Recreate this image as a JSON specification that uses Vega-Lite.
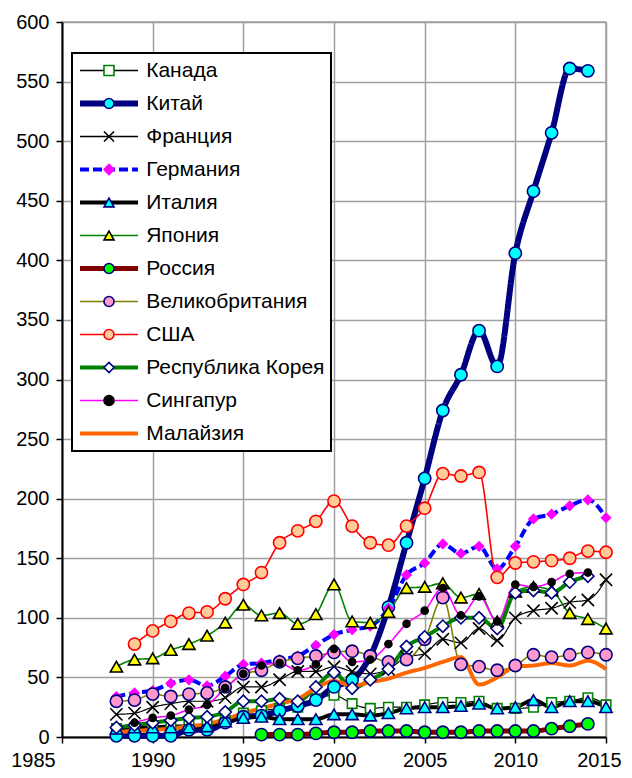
{
"$schema": "https://vega.github.io/schema/vega-lite/v6.json",
"width": 544, "height": 715,
"autosize": {"type": "none"},
"padding": {"left": 62, "top": 22, "right": 26, "bottom": 41},
"background": "white",
"config": {
  "font": "Liberation Sans",
  "view": {"stroke": "#a0a0a0", "strokeWidth": 1.5},
  "axis": {"labelFont": "Liberation Sans", "labelFontSize": 20, "labelColor": "black", "title": null, "domainColor": "black", "domainWidth": 2, "tickColor": "black", "tickWidth": 1.5, "tickSize": 6, "gridColor": "#a0a0a0", "gridWidth": 1.5, "labelPadding": 7},
  "legend": {"strokeWidth": 2}
},
"data": {"values": [
{"c":"Канада","y":1988,"v":7},{"c":"Канада","y":1989,"v":8},{"c":"Канада","y":1990,"v":9},{"c":"Канада","y":1991,"v":10},{"c":"Канада","y":1992,"v":10},{"c":"Канада","y":1993,"v":11},{"c":"Канада","y":1994,"v":14},{"c":"Канада","y":1995,"v":20},{"c":"Канада","y":1996,"v":22},{"c":"Канада","y":1997,"v":24},{"c":"Канада","y":1998,"v":25},{"c":"Канада","y":1999,"v":32},{"c":"Канада","y":2000,"v":35},{"c":"Канада","y":2001,"v":28},{"c":"Канада","y":2002,"v":24},{"c":"Канада","y":2003,"v":25},{"c":"Канада","y":2004,"v":25},{"c":"Канада","y":2005,"v":27},{"c":"Канада","y":2006,"v":29},{"c":"Канада","y":2007,"v":29},{"c":"Канада","y":2008,"v":30},{"c":"Канада","y":2009,"v":24},{"c":"Канада","y":2010,"v":24},{"c":"Канада","y":2011,"v":25},{"c":"Канада","y":2012,"v":29},{"c":"Канада","y":2013,"v":30},{"c":"Канада","y":2014,"v":33},{"c":"Канада","y":2015,"v":27},
{"c":"Китай","y":1988,"v":1},{"c":"Китай","y":1989,"v":1},{"c":"Китай","y":1990,"v":1},{"c":"Китай","y":1991,"v":1},{"c":"Китай","y":1992,"v":6},{"c":"Китай","y":1993,"v":6},{"c":"Китай","y":1994,"v":12},{"c":"Китай","y":1995,"v":17},{"c":"Китай","y":1996,"v":18},{"c":"Китай","y":1997,"v":22},{"c":"Китай","y":1998,"v":26},{"c":"Китай","y":1999,"v":31},{"c":"Китай","y":2000,"v":42},{"c":"Китай","y":2001,"v":48},{"c":"Китай","y":2002,"v":68},{"c":"Китай","y":2003,"v":109},{"c":"Китай","y":2004,"v":163},{"c":"Китай","y":2005,"v":217},{"c":"Китай","y":2006,"v":274},{"c":"Китай","y":2007,"v":304},{"c":"Китай","y":2008,"v":341},{"c":"Китай","y":2009,"v":311},{"c":"Китай","y":2010,"v":406},{"c":"Китай","y":2011,"v":458},{"c":"Китай","y":2012,"v":507},{"c":"Китай","y":2013,"v":561},{"c":"Китай","y":2014,"v":559},
{"c":"Франция","y":1988,"v":19},{"c":"Франция","y":1989,"v":20},{"c":"Франция","y":1990,"v":25},{"c":"Франция","y":1991,"v":28},{"c":"Франция","y":1992,"v":30},{"c":"Франция","y":1993,"v":30},{"c":"Франция","y":1994,"v":33},{"c":"Франция","y":1995,"v":42},{"c":"Франция","y":1996,"v":42},{"c":"Франция","y":1997,"v":48},{"c":"Франция","y":1998,"v":55},{"c":"Франция","y":1999,"v":55},{"c":"Франция","y":2000,"v":59},{"c":"Франция","y":2001,"v":55},{"c":"Франция","y":2002,"v":53},{"c":"Франция","y":2003,"v":57},{"c":"Франция","y":2004,"v":67},{"c":"Франция","y":2005,"v":70},{"c":"Франция","y":2006,"v":82},{"c":"Франция","y":2007,"v":79},{"c":"Франция","y":2008,"v":91},{"c":"Франция","y":2009,"v":81},{"c":"Франция","y":2010,"v":100},{"c":"Франция","y":2011,"v":106},{"c":"Франция","y":2012,"v":108},{"c":"Франция","y":2013,"v":113},{"c":"Франция","y":2014,"v":115},{"c":"Франция","y":2015,"v":132},
{"c":"Германия","y":1988,"v":34},{"c":"Германия","y":1989,"v":37},{"c":"Германия","y":1990,"v":39},{"c":"Германия","y":1991,"v":45},{"c":"Германия","y":1992,"v":48},{"c":"Германия","y":1993,"v":43},{"c":"Германия","y":1994,"v":51},{"c":"Германия","y":1995,"v":61},{"c":"Германия","y":1996,"v":62},{"c":"Германия","y":1997,"v":65},{"c":"Германия","y":1998,"v":68},{"c":"Германия","y":1999,"v":77},{"c":"Германия","y":2000,"v":86},{"c":"Германия","y":2001,"v":90},{"c":"Германия","y":2002,"v":93},{"c":"Германия","y":2003,"v":108},{"c":"Германия","y":2004,"v":136},{"c":"Германия","y":2005,"v":146},{"c":"Германия","y":2006,"v":162},{"c":"Германия","y":2007,"v":154},{"c":"Германия","y":2008,"v":160},{"c":"Германия","y":2009,"v":141},{"c":"Германия","y":2010,"v":160},{"c":"Германия","y":2011,"v":183},{"c":"Германия","y":2012,"v":187},{"c":"Германия","y":2013,"v":194},{"c":"Германия","y":2014,"v":199},{"c":"Германия","y":2015,"v":184},
{"c":"Италия","y":1988,"v":7},{"c":"Италия","y":1989,"v":8},{"c":"Италия","y":1990,"v":8},{"c":"Италия","y":1991,"v":8},{"c":"Италия","y":1992,"v":8},{"c":"Италия","y":1993,"v":9},{"c":"Италия","y":1994,"v":13},{"c":"Италия","y":1995,"v":16},{"c":"Италия","y":1996,"v":17},{"c":"Италия","y":1997,"v":15},{"c":"Италия","y":1998,"v":15},{"c":"Италия","y":1999,"v":15},{"c":"Италия","y":2000,"v":19},{"c":"Италия","y":2001,"v":19},{"c":"Италия","y":2002,"v":18},{"c":"Италия","y":2003,"v":20},{"c":"Италия","y":2004,"v":24},{"c":"Италия","y":2005,"v":25},{"c":"Италия","y":2006,"v":25},{"c":"Италия","y":2007,"v":26},{"c":"Италия","y":2008,"v":28},{"c":"Италия","y":2009,"v":24},{"c":"Италия","y":2010,"v":25},{"c":"Италия","y":2011,"v":31},{"c":"Италия","y":2012,"v":25},{"c":"Италия","y":2013,"v":30},{"c":"Италия","y":2014,"v":30},{"c":"Италия","y":2015,"v":25},
{"c":"Япония","y":1988,"v":59},{"c":"Япония","y":1989,"v":65},{"c":"Япония","y":1990,"v":66},{"c":"Япония","y":1991,"v":73},{"c":"Япония","y":1992,"v":78},{"c":"Япония","y":1993,"v":85},{"c":"Япония","y":1994,"v":96},{"c":"Япония","y":1995,"v":111},{"c":"Япония","y":1996,"v":102},{"c":"Япония","y":1997,"v":104},{"c":"Япония","y":1998,"v":95},{"c":"Япония","y":1999,"v":103},{"c":"Япония","y":2000,"v":128},{"c":"Япония","y":2001,"v":97},{"c":"Япония","y":2002,"v":96},{"c":"Япония","y":2003,"v":105},{"c":"Япония","y":2004,"v":125},{"c":"Япония","y":2005,"v":126},{"c":"Япония","y":2006,"v":129},{"c":"Япония","y":2007,"v":117},{"c":"Япония","y":2008,"v":120},{"c":"Япония","y":2009,"v":97},{"c":"Япония","y":2010,"v":122},{"c":"Япония","y":2011,"v":126},{"c":"Япония","y":2012,"v":123},{"c":"Япония","y":2013,"v":104},{"c":"Япония","y":2014,"v":99},{"c":"Япония","y":2015,"v":91},
{"c":"Россия","y":1996,"v":2},{"c":"Россия","y":1997,"v":2},{"c":"Россия","y":1998,"v":2},{"c":"Россия","y":1999,"v":3},{"c":"Россия","y":2000,"v":4},{"c":"Россия","y":2001,"v":4},{"c":"Россия","y":2002,"v":5},{"c":"Россия","y":2003,"v":5},{"c":"Россия","y":2004,"v":5},{"c":"Россия","y":2005,"v":4},{"c":"Россия","y":2006,"v":4},{"c":"Россия","y":2007,"v":4},{"c":"Россия","y":2008,"v":5},{"c":"Россия","y":2009,"v":5},{"c":"Россия","y":2010,"v":5},{"c":"Россия","y":2011,"v":5},{"c":"Россия","y":2012,"v":7},{"c":"Россия","y":2013,"v":9},{"c":"Россия","y":2014,"v":11},
{"c":"Великобритания","y":1988,"v":30},{"c":"Великобритания","y":1989,"v":31},{"c":"Великобритания","y":1990,"v":36},{"c":"Великобритания","y":1991,"v":34},{"c":"Великобритания","y":1992,"v":36},{"c":"Великобритания","y":1993,"v":37},{"c":"Великобритания","y":1994,"v":42},{"c":"Великобритания","y":1995,"v":53},{"c":"Великобритания","y":1996,"v":56},{"c":"Великобритания","y":1997,"v":63},{"c":"Великобритания","y":1998,"v":66},{"c":"Великобритания","y":1999,"v":68},{"c":"Великобритания","y":2000,"v":71},{"c":"Великобритания","y":2001,"v":72},{"c":"Великобритания","y":2002,"v":68},{"c":"Великобритания","y":2003,"v":63},{"c":"Великобритания","y":2004,"v":65},{"c":"Великобритания","y":2005,"v":82},{"c":"Великобритания","y":2006,"v":117},{"c":"Великобритания","y":2007,"v":61},{"c":"Великобритания","y":2008,"v":59},{"c":"Великобритания","y":2009,"v":56},{"c":"Великобритания","y":2010,"v":60},{"c":"Великобритания","y":2011,"v":69},{"c":"Великобритания","y":2012,"v":67},{"c":"Великобритания","y":2013,"v":69},{"c":"Великобритания","y":2014,"v":71},{"c":"Великобритания","y":2015,"v":69},
{"c":"США","y":1989,"v":78},{"c":"США","y":1990,"v":89},{"c":"США","y":1991,"v":97},{"c":"США","y":1992,"v":104},{"c":"США","y":1993,"v":105},{"c":"США","y":1994,"v":116},{"c":"США","y":1995,"v":128},{"c":"США","y":1996,"v":138},{"c":"США","y":1997,"v":163},{"c":"США","y":1998,"v":173},{"c":"США","y":1999,"v":181},{"c":"США","y":2000,"v":198},{"c":"США","y":2001,"v":177},{"c":"США","y":2002,"v":163},{"c":"США","y":2003,"v":161},{"c":"США","y":2004,"v":177},{"c":"США","y":2005,"v":192},{"c":"США","y":2006,"v":221},{"c":"США","y":2007,"v":219},{"c":"США","y":2008,"v":222},{"c":"США","y":2009,"v":134},{"c":"США","y":2010,"v":146},{"c":"США","y":2011,"v":147},{"c":"США","y":2012,"v":148},{"c":"США","y":2013,"v":150},{"c":"США","y":2014,"v":156},{"c":"США","y":2015,"v":155},
{"c":"Республика Корея","y":1988,"v":8},{"c":"Республика Корея","y":1989,"v":10},{"c":"Республика Корея","y":1990,"v":12},{"c":"Республика Корея","y":1991,"v":14},{"c":"Республика Корея","y":1992,"v":16},{"c":"Республика Корея","y":1993,"v":17},{"c":"Республика Корея","y":1994,"v":21},{"c":"Республика Корея","y":1995,"v":30},{"c":"Республика Корея","y":1996,"v":30},{"c":"Республика Корея","y":1997,"v":32},{"c":"Республика Корея","y":1998,"v":30},{"c":"Республика Корея","y":1999,"v":42},{"c":"Республика Корея","y":2000,"v":54},{"c":"Республика Корея","y":2001,"v":41},{"c":"Республика Корея","y":2002,"v":48},{"c":"Республика Корея","y":2003,"v":57},{"c":"Республика Корея","y":2004,"v":76},{"c":"Республика Корея","y":2005,"v":84},{"c":"Республика Корея","y":2006,"v":93},{"c":"Республика Корея","y":2007,"v":100},{"c":"Республика Корея","y":2008,"v":100},{"c":"Республика Корея","y":2009,"v":91},{"c":"Республика Корея","y":2010,"v":121},{"c":"Республика Корея","y":2011,"v":123},{"c":"Республика Корея","y":2012,"v":121},{"c":"Республика Корея","y":2013,"v":130},{"c":"Республика Корея","y":2014,"v":135},
{"c":"Сингапур","y":1989,"v":12},{"c":"Сингапур","y":1990,"v":16},{"c":"Сингапур","y":1991,"v":18},{"c":"Сингапур","y":1992,"v":23},{"c":"Сингапур","y":1993,"v":27},{"c":"Сингапур","y":1994,"v":41},{"c":"Сингапур","y":1995,"v":53},{"c":"Сингапур","y":1996,"v":60},{"c":"Сингапур","y":1997,"v":62},{"c":"Сингапур","y":1998,"v":56},{"c":"Сингапур","y":1999,"v":61},{"c":"Сингапур","y":2000,"v":74},{"c":"Сингапур","y":2001,"v":63},{"c":"Сингапур","y":2002,"v":65},{"c":"Сингапур","y":2003,"v":78},{"c":"Сингапур","y":2004,"v":95},{"c":"Сингапур","y":2005,"v":106},{"c":"Сингапур","y":2006,"v":125},{"c":"Сингапур","y":2007,"v":102},{"c":"Сингапур","y":2008,"v":118},{"c":"Сингапур","y":2009,"v":97},{"c":"Сингапур","y":2010,"v":128},{"c":"Сингапур","y":2011,"v":126},{"c":"Сингапур","y":2012,"v":130},{"c":"Сингапур","y":2013,"v":137},{"c":"Сингапур","y":2014,"v":138},
{"c":"Малайзия","y":1988,"v":4},{"c":"Малайзия","y":1989,"v":5},{"c":"Малайзия","y":1990,"v":6},{"c":"Малайзия","y":1991,"v":7},{"c":"Малайзия","y":1992,"v":9},{"c":"Малайзия","y":1993,"v":11},{"c":"Малайзия","y":1994,"v":15},{"c":"Малайзия","y":1995,"v":20},{"c":"Малайзия","y":1996,"v":24},{"c":"Малайзия","y":1997,"v":28},{"c":"Малайзия","y":1998,"v":32},{"c":"Малайзия","y":1999,"v":41},{"c":"Малайзия","y":2000,"v":47},{"c":"Малайзия","y":2001,"v":43},{"c":"Малайзия","y":2002,"v":46},{"c":"Малайзия","y":2003,"v":49},{"c":"Малайзия","y":2004,"v":54},{"c":"Малайзия","y":2005,"v":58},{"c":"Малайзия","y":2006,"v":63},{"c":"Малайзия","y":2007,"v":67},{"c":"Малайзия","y":2008,"v":44},{"c":"Малайзия","y":2009,"v":50},{"c":"Малайзия","y":2010,"v":59},{"c":"Малайзия","y":2011,"v":60},{"c":"Малайзия","y":2012,"v":62},{"c":"Малайзия","y":2013,"v":60},{"c":"Малайзия","y":2014,"v":64},{"c":"Малайзия","y":2015,"v":57}
]},
"encoding": {
  "x": {"field": "y", "type": "quantitative", "scale": {"domain": [1985, 2015], "nice": false, "zero": false}, "axis": {"values": [1985,1990,1995,2000,2005,2010,2015], "format": "d", "labelFlush": false, "labelOffset": {"condition": [{"test": "datum.value === 1985", "value": -29}, {"test": "datum.value === 2015", "value": -7}], "value": 0}}},
  "y": {"field": "v", "type": "quantitative", "scale": {"domain": [0, 600], "nice": false}, "axis": {"values": [0,50,100,150,200,250,300,350,400,450,500,550,600]}}
},
"layer": [
  {
    "mark": {"type": "line", "interpolate": "monotone"},
    "encoding": {
      "stroke": {"field": "c", "type": "nominal",
        "scale": {"domain": ["Канада","Китай","Франция","Германия","Италия","Япония","Россия","Великобритания","США","Республика Корея","Сингапур","Малайзия"],
                  "range": ["#000000","#000080","#000000","#0000ff","#000000","#008000","#800000","#808000","#ff0000","#008000","#ff00ff","#ff6600"]},
        "legend": {"title": null, "orient": "none", "legendX": 10, "legendY": 31, "direction": "vertical", "padding": 6, "fillColor": "white", "strokeColor": "black", "symbolType": "stroke", "symbolSize": 3364, "clipHeight": 23, "rowPadding": 10, "labelFontSize": 21, "labelFont": "Liberation Sans", "labelColor": "black", "symbolOffset": 20.5, "labelOffset": 26.7, "labelLimit": 400,
          "encode": {"symbols": {"update": {"strokeWidth": {"signal": "datum.value === 'Китай' ? 6 : datum.value === 'Россия' ? 5 : indexof(['Германия','Италия','Республика Корея','Малайзия'], datum.value) >= 0 ? 4 : 1.5"}}}}}},
      "strokeDash": {"field": "c", "type": "nominal",
        "scale": {"domain": ["Канада","Китай","Франция","Германия","Италия","Япония","Россия","Великобритания","США","Республика Корея","Сингапур","Малайзия"],
                  "range": [[1,0],[1,0],[1,0],[9,4],[1,0],[1,0],[1,0],[1,0],[1,0],[1,0],[1,0],[1,0]]},
        "legend": {"title": null}},
      "strokeWidth": {"condition": [
          {"test": "datum.c === 'Китай'", "value": 6},
          {"test": "datum.c === 'Россия'", "value": 5},
          {"test": "datum.c === 'Германия' || datum.c === 'Италия' || datum.c === 'Республика Корея' || datum.c === 'Малайзия'", "value": 4},
          {"test": "datum.c === 'Канада' || datum.c === 'Франция'", "value": 1.2}],
        "value": 1.6}
    }
  },
  {
    "mark": {"type": "point", "filled": true, "strokeWidth": 1.6, "opacity": 1},
    "encoding": {
      "shape": {"field": "c", "type": "nominal",
        "scale": {"domain": ["Канада","Китай","Франция","Германия","Италия","Япония","Россия","Великобритания","США","Республика Корея","Сингапур","Малайзия"],
                  "range": ["square","circle","M-1,-1L1,1M-1,1L1,-1","diamond","triangle-up","triangle-up","circle","circle","circle","diamond","circle","circle"]},
        "legend": {"title": null, "orient": "none", "legendX": 30.5, "legendY": 31, "direction": "vertical", "padding": 6, "clipHeight": 23, "rowPadding": 10, "labelFontSize": 21, "labelExpr": "''", "symbolStrokeWidth": 1.6, "labelLimit": 400,
          "encode": {"symbols": {"update": {"size": {"signal": "datum.value === 'Малайзия' ? 0 : datum.value === 'Сингапур' ? 50 : datum.value === 'Германия' ? 80 : datum.value === 'Канада' ? 90 : 150"}}}}}},
      "fill": {"field": "c", "type": "nominal",
        "scale": {"domain": ["Канада","Китай","Франция","Германия","Италия","Япония","Россия","Великобритания","США","Республика Корея","Сингапур","Малайзия"],
                  "range": ["#ffffff","#00ffff","transparent","#ff00ff","#00ffff","#ffff00","#00ff00","#ff99cc","#ffcc99","#ffffff","#000000","transparent"]},
        "legend": {"title": null}},
      "stroke": {"field": "c", "type": "nominal",
        "scale": {"domain": ["Канада","Китай","Франция","Германия","Италия","Япония","Россия","Великобритания","США","Республика Корея","Сингапур","Малайзия"],
                  "range": ["#008000","#000080","#000000","#ff00ff","#000080","#000000","#000080","#000080","#ff0000","#000080","#000000","transparent"]},
        "legend": {"title": null}},
      "size": {"condition": [
          {"test": "datum.c === 'Малайзия'", "value": 0},
          {"test": "datum.c === 'Сингапур'", "value": 50},
          {"test": "datum.c === 'Германия'", "value": 80},
          {"test": "datum.c === 'Канада'", "value": 90}],
        "value": 150}
    }
  }
],
"resolve": {"scale": {"stroke": "independent"}, "legend": {"stroke": "independent", "strokeDash": "independent", "shape": "independent", "fill": "independent"}}
}
